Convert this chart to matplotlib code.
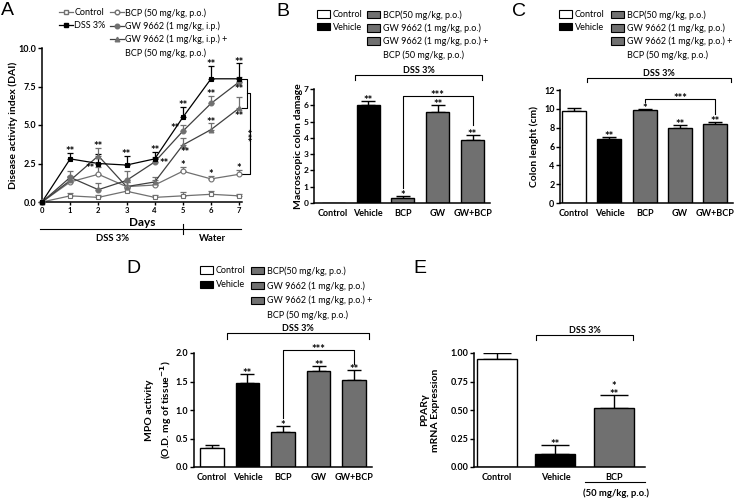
import numpy as np
import matplotlib
matplotlib.use("Agg")
import matplotlib.pyplot as plt
from matplotlib.patches import Patch
from matplotlib.lines import Line2D
from matplotlib.transforms import blended_transform_factory

plt.rcParams['font.family'] = ['Lato', 'DejaVu Sans']

W, H = 734, 499
GRAY = '#707070'

# ---- panel A data (DAI over days)
days = [0, 1, 2, 3, 4, 5, 6, 7]
ctrl_a = [0, 0.4, 0.3, 0.7, 0.3, 0.4, 0.5, 0.4]
ctrl_a_err = [0, 0.2, 0.15, 0.2, 0.15, 0.25, 0.2, 0.15]
dss_a = [0, 2.8, 2.5, 2.4, 2.8, 5.5, 8.0, 8.0]
dss_a_err = [0, 0.4, 0.6, 0.6, 0.45, 0.7, 0.85, 1.0]
bcp_a = [0, 1.3, 1.8, 1.0, 1.1, 2.0, 1.5, 1.8]
bcp_a_err = [0, 0.3, 0.5, 0.3, 0.3, 0.3, 0.2, 0.3]
gw_a = [0, 1.6, 0.8, 1.4, 2.6, 4.6, 6.4, 7.8]
gw_a_err = [0, 0.4, 0.45, 0.6, 0.3, 0.4, 0.5, 0.3]
gwbcp_a = [0, 1.4, 3.0, 1.0, 1.3, 3.7, 4.7, 6.1]
gwbcp_a_err = [0, 0.3, 0.5, 0.3, 0.3, 0.45, 0.4, 0.75]
# significance marks in A: (x, y, text)
sig_a = [(1, 3.25, '**'), (2, 3.55, '**'), (1.72, 2.15, '**'), (3, 3.05, '**'),
         (4, 3.3, '**'), (4.35, 2.45, '**'), (5, 6.25, '**'), (4.72, 4.75, '**'),
         (5.08, 3.2, '**'), (5, 2.35, '*'), (6, 8.9, '**'), (6, 6.95, '**'),
         (6, 5.15, '**'), (6, 1.75, '*'), (7, 9.05, '**'), (7, 7.25, '**'),
         (7, 5.55, '**'), (7, 2.15, '*')]

# ---- bar panels
groups = ['Control', 'Vehicle', 'BCP', 'GW', 'GW+BCP']
b_vals = [0, 6.0, 0.3, 5.6, 3.85]
b_err = [0, 0.25, 0.15, 0.4, 0.3]
b_sig = ['', '**', '*', '**', '**']
c_vals = [9.8, 6.75, 9.85, 8.0, 8.35]
c_err = [0.3, 0.3, 0.1, 0.25, 0.25]
c_sig = ['', '**', '*', '**', '**']
d_vals = [0.33, 1.48, 0.62, 1.68, 1.53]
d_err = [0.05, 0.16, 0.1, 0.1, 0.17]
d_sig = ['', '**', '*', '**', '**']
e_groups = ['Control', 'Vehicle', 'BCP']
e_vals = [0.95, 0.11, 0.52]
e_err = [0.05, 0.08, 0.11]
e_sig = ['', '**', '*\n**']

bar_colors = ['white', 'black', GRAY, GRAY, GRAY]

fig = plt.figure(figsize=(W / 100, H / 100), dpi=100)


def px_axes(l, t, r, b):
    return fig.add_axes([l / W, 1 - b / H, (r - l) / W, (b - t) / H])


def style(ax, fs=6.5):
    for s in ['top', 'right']:
        ax.spines[s].set_visible(False)
    for s in ['left', 'bottom']:
        ax.spines[s].set_linewidth(1.1)
    ax.tick_params(axis='y', direction='out', length=3, width=1, labelsize=fs, pad=1)


def star(ax, x, y, s, fs=8):
    ax.annotate(s, (x, y), xytext=(0, -2.2), textcoords='offset points', ha='center',
                va='baseline', fontsize=fs, fontweight='bold', linespacing=0.7,
                annotation_clip=False)


def bars(ax, labels, vals, errs, sigs, width, cap):
    x = np.arange(len(vals))
    ax.bar(x, vals, width, color=bar_colors[:len(vals)], edgecolor='black', linewidth=1, zorder=2)
    for xi, v, e, s in zip(x, vals, errs, sigs):
        if e > 0:
            ax.errorbar([xi], [v], yerr=[[0], [e]], fmt='none', ecolor='black',
                        elinewidth=1, capsize=cap, capthick=1, zorder=1)
        if s:
            star(ax, xi, v + e, s)
    ax.set_xticks(x)
    ax.set_xticklabels(labels, fontsize=6.5, fontweight='bold')
    ax.tick_params(axis='x', length=0, pad=4)


def bracket(ax, x0, x1, y, y0, y1, text=None, fs=6.5):
    ax.plot([x0, x0, x1, x1], [y0, y, y, y1], color='black', lw=0.8, clip_on=False)
    if text == '***':
        star(ax, (x0 + x1) / 2, y, text)
    elif text:
        ax.text((x0 + x1) / 2, y, text, ha='center', va='bottom', fontsize=fs,
                fontweight='bold')


def patch_legend(handles, labels, x, y, spacing=0.42):
    fig.legend(handles, labels, loc='upper left', bbox_to_anchor=(x / W, 1 - y / H),
               frameon=False, fontsize=6.5, handlelength=1.45, handleheight=0.9,
               handletextpad=0.3, labelspacing=spacing, borderpad=0, borderaxespad=0)


def box(c):
    return Patch(facecolor=c, edgecolor='black', linewidth=0.8)


blank = Patch(facecolor='none', edgecolor='none')

# ================= A
axA = px_axes(42, 48, 242, 202)
style(axA)
series = [
    (ctrl_a, ctrl_a_err, 's', 'white', GRAY, GRAY),
    (bcp_a, bcp_a_err, 'o', 'white', GRAY, GRAY),
    (gwbcp_a, gwbcp_a_err, '^', GRAY, GRAY, '#404040'),
    (gw_a, gw_a_err, 'o', GRAY, GRAY, '#404040'),
    (dss_a, dss_a_err, 's', 'black', 'black', 'black'),
]
for vals, errs, mk, mfc, mec, lc in series:
    axA.plot(days, vals, '-', color=lc, lw=0.9, zorder=2)
    axA.errorbar(days, vals, yerr=[np.zeros(len(errs)), errs], fmt='none', ecolor=mec,
                 elinewidth=0.9, capsize=2.5, capthick=0.9, zorder=1)
    axA.plot(days, vals, mk, ms=3.5, mfc=mfc, mec=mec, mew=0.8, zorder=3, clip_on=False)
for x, y, t in sig_a:
    star(axA, x, y, t)
axA.set_xlim(0, 7.1)
axA.set_ylim(0, 10)
axA.set_yticks([0, 2.5, 5.0, 7.5, 10.0])
axA.set_yticklabels(['0.0', '2.5', '5.0', '7.5', '10.0'], fontweight='bold')
axA.set_xticks(days)
axA.set_xticklabels([str(d) for d in days], fontweight='bold')
axA.tick_params(axis='x', length=2.5, width=1, labelsize=5.5, pad=1)
axA.set_ylabel('Disease activity index (DAI)', fontsize=7.5, fontweight='bold')
axA.yaxis.set_label_coords(-0.12, 0.5)
# nested bracket at day 7
axA.plot([7.1, 7.28, 7.28, 7.1], [8.0, 8.0, 6.1, 6.1], color='black', lw=0.8, clip_on=False)
axA.plot([7.28, 7.38, 7.38, 7.1], [7.05, 7.05, 1.8, 1.8], color='black', lw=0.8, clip_on=False)
axA.text(7.52, 4.4, '***', rotation=90, ha='center', va='center', fontsize=8,
         fontweight='bold', clip_on=False)
tA = blended_transform_factory(axA.transData, axA.transAxes)
axA.text(3.55, -0.13, 'Days', transform=tA, ha='center', va='center', fontsize=8.5,
         fontweight='bold')
axA.plot([-0.07, 7.05], [-0.175, -0.175], transform=tA, color='black', lw=0.8, clip_on=False)
axA.plot([5, 5], [-0.145, -0.205], transform=tA, color='black', lw=0.8, clip_on=False)
axA.text(2.5, -0.24, 'DSS 3%', transform=tA, ha='center', va='center', fontsize=6.8,
         fontweight='bold')
axA.text(6.05, -0.24, 'Water', transform=tA, ha='center', va='center', fontsize=6.8,
         fontweight='bold')

hA = [Line2D([], [], color=GRAY, lw=0.9, marker='s', ms=3.3, mfc='white', mec=GRAY),
      Line2D([], [], color='black', lw=0.9, marker='s', ms=3.3, mfc='black', mec='black')]
hA2 = [Line2D([], [], color=GRAY, lw=0.9, marker='o', ms=3.3, mfc='white', mec=GRAY),
       Line2D([], [], color='#404040', lw=0.9, marker='o', ms=3.3, mfc=GRAY, mec=GRAY),
       Line2D([], [], color='#404040', lw=0.9, marker='^', ms=3.3, mfc=GRAY, mec=GRAY),
       blank]
for h, l, x in [(hA, ['Control', 'DSS 3%'], 59),
                (hA2, ['BCP (50 mg/kg, p.o.)', 'GW 9662 (1 mg/kg, i.p.)',
                       'GW 9662 (1 mg/kg, i.p.) +', 'BCP (50 mg/kg, p.o.)'], 110)]:
    fig.legend(h, l, loc='upper left', bbox_to_anchor=(x / W, 1 - 8 / H), frameon=False,
               fontsize=6.5, handlelength=1.5, handletextpad=0.2, labelspacing=0.42,
               borderpad=0, borderaxespad=0)

# ================= B
axB = px_axes(314, 89, 490, 203)
style(axB)
bars(axB, groups, b_vals, b_err, b_sig, 0.66, 5)
axB.set_xlim(-0.55, 4.5)
axB.set_ylim(0, 7)
axB.set_yticks(range(8))
axB.set_yticklabels([str(i) for i in range(8)], fontweight='bold', fontsize=6)
axB.set_ylabel('Macroscopic colon damage', fontsize=7.5, fontweight='bold')
axB.yaxis.set_label_coords(-0.06, 0.5)
bracket(axB, 2, 4, 6.6, 0.9, 4.8, '***')
bracket(axB, 0.63, 4.27, 7.85, 7.55, 7.55, 'DSS 3%')

# ================= C
axC = px_axes(560, 90, 733, 203)
style(axC)
bars(axC, groups, c_vals, c_err, c_sig, 0.68, 5)
axC.set_xlim(-0.4, 4.5)
axC.set_ylim(0, 12)
axC.set_yticks(range(0, 13, 2))
axC.set_yticklabels([str(i) for i in range(0, 13, 2)], fontweight='bold', fontsize=6.5)
axC.set_ylabel('Colon lenght (cm)', fontsize=7.5, fontweight='bold')
axC.yaxis.set_label_coords(-0.12, 0.5)
bracket(axC, 2, 4, 11.0, 10.7, 9.4, '***')
bracket(axC, 0.37, 4.43, 13.3, 12.8, 12.8, 'DSS 3%')

# ================= D
axD = px_axes(194, 353, 372, 467)
style(axD)
bars(axD, groups, d_vals, d_err, d_sig, 0.66, 5)
axD.set_xlim(-0.5, 4.5)
axD.set_ylim(0, 2)
axD.set_yticks([0, 0.5, 1.0, 1.5, 2.0])
axD.set_yticklabels(['0.0', '0.5', '1.0', '1.5', '2.0'], fontweight='bold', fontsize=6.5)
axD.set_ylabel('MPO activity\n(O.D. mg of tissue$^{\\mathbf{-1}}$)', fontsize=7.5,
               fontweight='bold', linespacing=1.3)
axD.yaxis.set_label_coords(-0.115, 0.5)
bracket(axD, 2, 4, 2.05, 0.86, 1.8, '***')
bracket(axD, 0.42, 4.42, 2.35, 2.25, 2.25, 'DSS 3%')

# ================= E
axE = px_axes(474, 353, 645, 467)
style(axE)
bars(axE, e_groups, e_vals, e_err, e_sig, 0.68, 10)
axE.set_xlim(-0.39, 2.53)
axE.set_ylim(0, 1)
axE.set_yticks([0, 0.25, 0.5, 0.75, 1.0])
axE.set_yticklabels(['0.00', '0.25', '0.50', '0.75', '1.00'], fontweight='bold', fontsize=6.5)
axE.set_ylabel('PPAR\u03b3\nmRNA Expression', fontsize=7.5, fontweight='bold', linespacing=1.3)
axE.yaxis.set_label_coords(-0.2, 0.5)
bracket(axE, 0.67, 2.32, 1.16, 1.11, 1.11, 'DSS 3%')
tE = blended_transform_factory(axE.transData, axE.transAxes)
axE.plot([1.5, 2.53], [-0.13, -0.13], transform=tE, color='black', lw=0.8, clip_on=False)
axE.text(2.03, -0.23, '(50 mg/kg, p.o.)', transform=tE, ha='center', va='center',
         fontsize=6.8, fontweight='bold')

for ax in [axA, axB, axC, axD, axE]:
    for lab in ax.get_yticklabels():
        lab.set_fontweight('bold')

# ================= bar legends
gw_labels = ['BCP(50 mg/kg, p.o.)', 'GW 9662 (1 mg/kg, p.o.)', 'GW 9662 (1 mg/kg, p.o.) +',
             'BCP (50 mg/kg, p.o.)']
patch_legend([box('white'), box('black')], ['Control', 'Vehicle'], 317, 10)
patch_legend([box(GRAY), box(GRAY), box(GRAY), blank], gw_labels, 367, 10)
patch_legend([box('white'), box('black')], ['Control', 'Vehicle'], 559, 10)
patch_legend([box(GRAY), box(GRAY), box(GRAY), blank], gw_labels, 611, 10)
patch_legend([box('white'), box('black')], ['Control', 'Vehicle'], 200, 266, spacing=0.6)
patch_legend([box(GRAY), box(GRAY), box(GRAY), blank], gw_labels, 251, 266, spacing=0.6)

# panel letters
for letter, x, y in [('A', 1, 2), ('B', 276, 3), ('C', 512, 3), ('D', 126, 260), ('E', 413, 260)]:
    fig.text(x / W, 1 - y / H, letter, fontsize=14, family='Liberation Sans', ha='left', va='top')

fig.savefig('out.png', dpi=100)
